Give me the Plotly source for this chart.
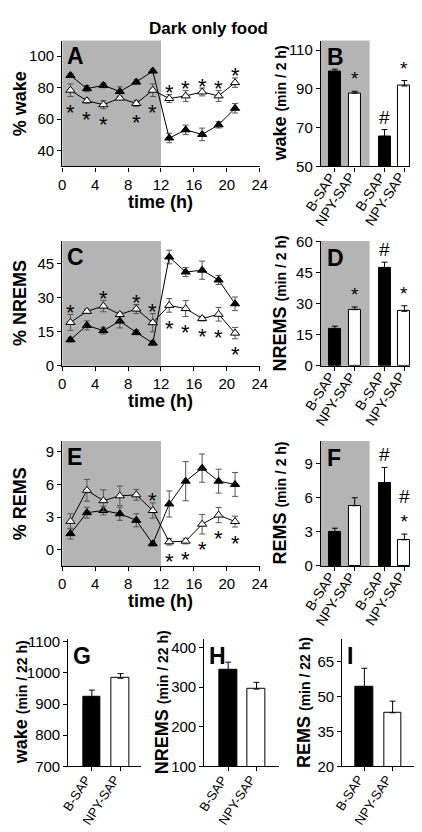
import plotly.graph_objects as go

# ---------------- data ----------------
hours = [1, 3, 5, 7, 9, 11, 13, 15, 17, 19, 21]

wake_bsap = [87.8, 79.4, 81.5, 77.6, 83.6, 90.6, 48.0, 53.2, 50.3, 56.4, 66.9]
wake_bsap_err = [1.2, 2.0, 1.5, 3.0, 1.5, 1.0, 3.0, 3.0, 4.0, 2.0, 3.0]
wake_npy = [78.4, 71.7, 69.2, 73.4, 70.0, 78.4, 73.1, 74.8, 77.3, 74.8, 83.2]
wake_npy_err = [4.0, 1.5, 2.5, 1.0, 2.0, 4.0, 2.5, 3.5, 2.5, 3.5, 3.0]
wake_sig_below = [1, 3, 5, 9, 11]
wake_sig_above = [13, 15, 17, 19, 21]

nrems_bsap = [11.5, 17.8, 15.5, 19.7, 14.7, 10.0, 47.9, 41.3, 42.1, 37.8, 27.3]
nrems_bsap_err = [1.0, 2.0, 1.5, 3.0, 1.0, 1.0, 3.0, 2.0, 4.0, 2.0, 3.0]
nrems_npy = [19.1, 24.0, 26.3, 22.6, 25.0, 19.0, 26.6, 25.2, 20.8, 22.7, 14.4]
nrems_npy_err = [3.5, 1.0, 2.5, 1.0, 2.0, 4.0, 3.0, 3.5, 1.0, 3.0, 2.5]
nrems_sig_above = [1, 5, 9, 11]
nrems_sig_below = [13, 15, 17, 19, 21]

rems_bsap = [1.47, 3.4, 3.6, 3.3, 2.7, 0.54, 4.2, 6.3, 7.5, 6.3, 6.0]
rems_bsap_err = [0.5, 0.5, 0.4, 0.6, 0.6, 0.2, 1.2, 1.8, 1.3, 1.1, 1.1]
rems_npy = [2.6, 5.46, 4.5, 4.95, 5.04, 3.6, 0.72, 0.78, 2.34, 3.18, 2.58]
rems_npy_err = [0.7, 1.0, 1.0, 0.9, 0.5, 0.7, 0.3, 0.25, 0.9, 0.7, 0.5]
rems_sig_above = [11]
rems_sig_below = [13, 15, 17, 19, 21]

bar_labels = ["B-SAP", "NPY-SAP", "B-SAP", "NPY-SAP"]
wake_2h = [99.0, 87.8, 65.5, 91.5]
wake_2h_err = [1.2, 1.0, 3.5, 2.8]
wake_2h_marks = ["", "*", "#", "*"]
nrems_2h = [17.7, 27.2, 47.2, 26.4]
nrems_2h_err = [1.5, 1.3, 3.0, 2.7]
nrems_2h_marks = ["", "*", "#", "*"]
rems_2h = [3.02, 5.3, 7.27, 2.3]
rems_2h_err = [0.3, 0.7, 1.4, 0.5]
rems_2h_marks = ["", "", "#", "#<br>*"]

total_labels = ["B-SAP", "NPY-SAP"]
wake_22h = [923, 983]
wake_22h_err = [22, 15]
nrems_22h = [343, 295]
nrems_22h_err = [20, 17]
rems_22h = [54.3, 43.1]
rems_22h_err = [8, 5]

# ---------------- layout helpers ----------------
W, H = 422, 832
FONT = "Liberation Sans, Arial, sans-serif"
GRAY = "rgb(180,180,180)"


def xd(a, b):
    return [a / W, b / W]


def yd(top, bottom):
    return [1 - bottom / H, 1 - top / H]


colL = xd(51.7, 255)
colR = xd(318, 410)
rowA = yd(25, 153.3)
rowC = yd(229.3, 356.7)
rowE = yd(433.3, 560.7)
rowG = yd(635, 765)

fig = go.Figure()
shapes = []
annotations = []

axis_common = dict(showline=True, linecolor="black", linewidth=1.3, ticks="outside",
                   ticklen=4, tickcolor="black", showgrid=False, zeroline=False,
                   tickfont=dict(family=FONT, size=15, color="black"), fixedrange=True)


def add_line_panel(n, xs, b, be, w, we, sig_above, sig_below, xdom, ydom, yrange, yticks,
                   letter, ytitle):
    xa = "x" if n == 1 else f"x{n}"
    ya = "y" if n == 1 else f"y{n}"
    fig.add_trace(go.Scatter(x=xs, y=b, mode="lines+markers", xaxis=xa, yaxis=ya,
                             line=dict(color="black", width=1),
                             marker=dict(symbol="triangle-up", size=8, color="black",
                                         line=dict(color="black", width=1)),
                             error_y=dict(type="data", array=be, color="#555", thickness=1, width=3),
                             showlegend=False))
    fig.add_trace(go.Scatter(x=xs, y=w, mode="lines+markers", xaxis=xa, yaxis=ya,
                             line=dict(color="black", width=1),
                             marker=dict(symbol="triangle-up", size=8, color="white",
                                         line=dict(color="black", width=1)),
                             error_y=dict(type="data", array=we, color="#555", thickness=1, width=3),
                             showlegend=False))
    fig.update_layout(**{
        ("xaxis" if n == 1 else f"xaxis{n}"): dict(axis_common, domain=xdom, range=[0, 24],
                                                  tickvals=list(range(0, 25, 4)), anchor=ya),
        ("yaxis" if n == 1 else f"yaxis{n}"): dict(axis_common, domain=ydom, range=yrange,
                                                  tickvals=yticks, anchor=xa),
    })
    shapes.append(dict(type="rect", xref=xa, yref=f"{ya} domain", x0=0, x1=12, y0=0, y1=1,
                       fillcolor=GRAY, line=dict(width=0), layer="below"))
    for h in sig_above:
        i = xs.index(h)
        annotations.append(dict(x=h, y=w[i] + we[i], xref=xa, yref=ya, text="*", showarrow=False,
                                yanchor="middle", yshift=2,
                                font=dict(family=FONT, size=22, color="black")))
    for h in sig_below:
        i = xs.index(h)
        annotations.append(dict(x=h, y=w[i] - we[i], xref=xa, yref=ya, text="*", showarrow=False,
                                yanchor="middle", yshift=-16,
                                font=dict(family=FONT, size=22, color="black")))
    annotations.append(dict(x=0.012, y=0.995, xref=f"{xa} domain", yref=f"{ya} domain", text="<b>" + letter + "</b>",
                            showarrow=False, xanchor="left", yanchor="top",
                            font=dict(family=FONT, size=23, color="black")))
    # x title
    annotations.append(dict(x=(xdom[0] + xdom[1]) / 2, y=ydom[0] - 36 / H, xref="paper", yref="paper",
                            text="<b>time (h)</b>", showarrow=False, xanchor="center", yanchor="middle",
                            font=dict(family=FONT, size=18, color="black")))
    annotations.append(dict(x=9 / W, y=(ydom[0] + ydom[1]) / 2, xref="paper", yref="paper",
                            text="<b>" + ytitle + "</b>", showarrow=False, textangle=-90,
                            xanchor="center", yanchor="middle",
                            font=dict(family=FONT, size=18, color="black")))


def add_bar_panel(n, labels, xs, vals, errs, marks, xdom, ydom, xrange, yrange, yticks, letter,
                  ytitle, tx, shade_to=None, bw=0.6, lab_size=14, lab_dx=5, lab_dy=-2):
    xa = f"x{n}"
    ya = f"y{n}"
    colors = ["black" if i % 2 == 0 else "white" for i in range(len(vals))]
    fig.add_trace(go.Bar(x=xs, y=vals, xaxis=xa, yaxis=ya, width=bw,
                         marker=dict(color=colors, line=dict(color="black", width=1)),
                         error_y=dict(type="data", array=errs, arrayminus=[0] * len(errs),
                                      symmetric=False, color="black", thickness=1, width=3),
                         showlegend=False))
    fig.update_layout(**{
        f"xaxis{n}": dict(axis_common, domain=xdom, range=xrange, tickvals=xs,
                          showticklabels=False, anchor=ya),
        f"yaxis{n}": dict(axis_common, domain=ydom, range=yrange, tickvals=yticks, anchor=xa),
    })
    # rotated category labels, ending at each tick
    for x, lab in zip(xs, labels):
        annotations.append(dict(x=x, y=0, xref=xa, yref=f"{ya} domain", text=lab, showarrow=False,
                                textangle=-57, xanchor="right", yanchor="top",
                                xshift=lab_dx, yshift=lab_dy, borderpad=0,
                                font=dict(family=FONT, size=lab_size, color="black")))
    if shade_to is not None:
        shapes.append(dict(type="rect", xref=xa, yref=f"{ya} domain", x0=xrange[0], x1=shade_to,
                           y0=0, y1=1, fillcolor=GRAY, line=dict(width=0), layer="below"))
    for x, v, e, m in zip(xs, vals, errs, marks):
        if m:
            annotations.append(dict(x=x, y=v + e, xref=xa, yref=ya, text=m, showarrow=False,
                                    yanchor="bottom", yshift=0,
                                    font=dict(family=FONT, size=19, color="black")))
    annotations.append(dict(x=0.04, y=0.985, xref=f"{xa} domain", yref=f"{ya} domain", text="<b>" + letter + "</b>",
                            showarrow=False, xanchor="left", yanchor="top",
                            font=dict(family=FONT, size=23, color="black")))
    annotations.append(dict(x=tx / W, y=(ydom[0] + ydom[1]) / 2, xref="paper", yref="paper",
                            text=ytitle, showarrow=False, textangle=-90,
                            xanchor="center", yanchor="middle",
                            font=dict(family=FONT, size=18, color="black")))


def ttl(main, unit):
    return "<b>" + main + " <span style='font-size:14px'>" + unit + "</span></b>"


add_line_panel(1, hours, wake_bsap, wake_bsap_err, wake_npy, wake_npy_err, wake_sig_above,
               wake_sig_below, colL, rowA, [30, 110], [40, 60, 80, 100], "A", "% wake")
add_line_panel(3, hours, nrems_bsap, nrems_bsap_err, nrems_npy, nrems_npy_err, nrems_sig_above,
               nrems_sig_below, colL, rowC, [0, 55], [0, 15, 30, 45], "C", "% NREMS")
add_line_panel(5, hours, rems_bsap, rems_bsap_err, rems_npy, rems_npy_err, rems_sig_above,
               rems_sig_below, colL, rowE, [-1.5, 10], [0, 3, 6, 9], "E", "% REMS")

bx = [1, 2, 3.5, 4.5]
add_bar_panel(2, bar_labels, bx, wake_2h, wake_2h_err, wake_2h_marks, colR, rowA, [0.3, 4.8],
              [50, 115], [50, 70, 90, 110], "B", ttl("wake", "(min / 2 h)"), 276, shade_to=2.75)
add_bar_panel(4, bar_labels, bx, nrems_2h, nrems_2h_err, nrems_2h_marks, colR, rowC, [0.3, 4.8],
              [0, 60.5], [0, 15, 30, 45, 60], "D", ttl("NREMS", "(min / 2 h)"), 276, shade_to=2.75)
add_bar_panel(6, bar_labels, bx, rems_2h, rems_2h_err, rems_2h_marks, colR, rowE, [0.3, 4.8],
              [0, 11], [0, 3, 6, 9], "F", ttl("REMS", "(min / 2 h)"), 276, shade_to=2.75)

tx2 = [1, 2]
add_bar_panel(7, total_labels, tx2, wake_22h, wake_22h_err, ["", ""], xd(58, 133), rowG, [0.18, 2.72],
              [700, 1110], [700, 800, 900, 1000, 1100], "G", ttl("wake", "(min / 22 h)"), 9, bw=0.62,
              lab_size=13, lab_dx=3, lab_dy=-5)
add_bar_panel(8, total_labels, tx2, nrems_22h, nrems_22h_err, ["", ""], xd(198, 275), rowG, [0.16, 2.8],
              [100, 422], [100, 200, 300, 400], "H", ttl("NREMS", "(min / 22 h)"), 154, bw=0.62,
              lab_size=13, lab_dx=3, lab_dy=-5)
add_bar_panel(9, total_labels, tx2, rems_22h, rems_22h_err, ["", ""], xd(340, 415), rowG, [0.22, 2.8],
              [20, 75], [20, 35, 50, 65], "I", ttl("REMS", "(min / 22 h)"), 300, bw=0.62,
              lab_size=13, lab_dx=3, lab_dy=-5)

annotations.append(dict(x=202 / W, y=1 - 13 / H, xref="paper", yref="paper",
                        text="<b>Dark only food</b>", showarrow=False, xanchor="center",
                        yanchor="middle", font=dict(family=FONT, size=17, color="black")))

fig.update_layout(width=W, height=H, margin=dict(l=0, r=0, t=0, b=0),
                  paper_bgcolor="white", plot_bgcolor="white",
                  shapes=shapes, annotations=annotations, bargap=0,
                  font=dict(family=FONT, color="black"))

fig.write_html("out.html", config={"displayModeBar": False})
